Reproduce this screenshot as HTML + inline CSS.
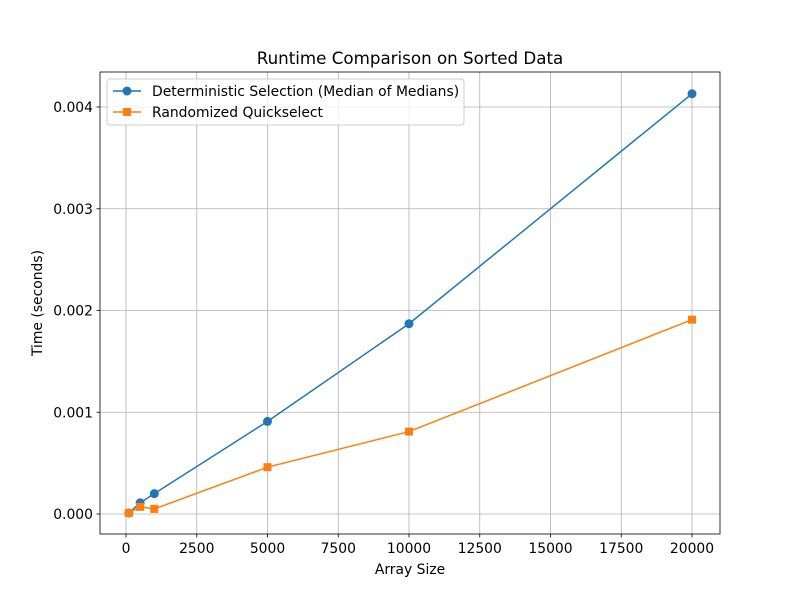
<!DOCTYPE html>
<html><head><meta charset="utf-8"><style>
body{margin:0;background:#fff;font-family:"DejaVu Sans","Liberation Sans",sans-serif;}
svg text{font-family:"DejaVu Sans","Liberation Sans",sans-serif;fill:#000;}
</style></head><body>
<svg id="chart" width="800" height="600" xmlns="http://www.w3.org/2000/svg">
<rect width="800" height="600" fill="#fff"/>
<g id="grid"></g>
<g id="series"></g>
<rect x="100" y="72" width="620" height="462" fill="none" stroke="#000" stroke-width="0.8"/>
<g id="ticks"></g>
<text x="410" y="64" text-anchor="middle" font-size="16.7">Runtime Comparison on Sorted Data</text>
<text x="410" y="574" text-anchor="middle" font-size="13.9">Array Size</text>
<text transform="translate(42,303) rotate(-90)" text-anchor="middle" font-size="13.9">Time (seconds)</text>
<g>
<rect x="107" y="79" width="357" height="46" rx="3" fill="#fff" fill-opacity="0.8" stroke="#ccc"/>
<g>
<line x1="113" y1="91" x2="141" y2="91" stroke="#1f77b4" stroke-width="1.5"/>
<circle cx="127" cy="91" r="4.5" fill="#1f77b4"/>
<text x="152" y="96" font-size="13.9">Deterministic Selection (Median of Medians)</text></g>
<g>
<line x1="113" y1="112" x2="141" y2="112" stroke="#ff7f0e" stroke-width="1.5"/>
<rect x="123" y="108" width="8" height="8" fill="#ff7f0e"/>
<text x="152" y="117" font-size="13.9">Randomized Quickselect</text></g>
</g>
</svg>
<script>
const sizes=[100,500,1000,5000,10000,20000];
const detTimes=[0.00001,0.00011,0.0002,0.00091,0.00187,0.00413];
const randTimes=[0.00001,0.00007,0.00005,0.00046,0.00081,0.00191];
const xTicks=[0,2500,5000,7500,10000,12500,15000,17500,20000];
const yTicks=[0,0.001,0.002,0.003,0.004];
const yTickLabels=["0.000","0.001","0.002","0.003","0.004"];
const NS="http://www.w3.org/2000/svg";
const X=v=>126+v*(566/20000);
const Y=v=>514-v*101.75*1000;
function mk(t,a,p){const e=document.createElementNS(NS,t);for(const k in a)e.setAttribute(k,a[k]);p.appendChild(e);return e;}
const grid=document.getElementById('grid'),ticks=document.getElementById('ticks'),ser=document.getElementById('series');
xTicks.forEach(v=>{const x=X(v);
const g=mk('line',{x1:x,x2:x,y1:72,y2:534,stroke:'#b0b0b0','stroke-width':0.8},grid);


mk('line',{x1:x,x2:x,y1:534,y2:537.5,stroke:'#000','stroke-width':0.8},ticks);
const t=mk('text',{x:x,y:553,'text-anchor':'middle','font-size':13.9},ticks);t.textContent=v;

});
yTicks.forEach((v,i)=>{const y=Y(v);
const g=mk('line',{x1:100,x2:720,y1:y,y2:y,stroke:'#b0b0b0','stroke-width':0.8},grid);


mk('line',{x1:96.5,x2:100,y1:y,y2:y,stroke:'#000','stroke-width':0.8},ticks);
const t=mk('text',{x:93,y:y+5,'text-anchor':'end','font-size':13.9},ticks);t.textContent=yTickLabels[i];

});
function draw(vals,color,square,name){
const pl=mk('polyline',{points:sizes.map((s,i)=>X(s)+','+Y(vals[i])).join(' '),fill:'none',stroke:color,'stroke-width':1.5},ser);


sizes.forEach((s,i)=>{const m=square?mk('rect',{x:X(s)-4,y:Y(vals[i])-4,width:8,height:8,fill:color},ser):mk('circle',{cx:X(s),cy:Y(vals[i]),r:4.5,fill:color},ser);

});}
draw(detTimes,'#1f77b4',false,'deterministic');
draw(randTimes,'#ff7f0e',true,'randomized');
</script>
</body></html>
